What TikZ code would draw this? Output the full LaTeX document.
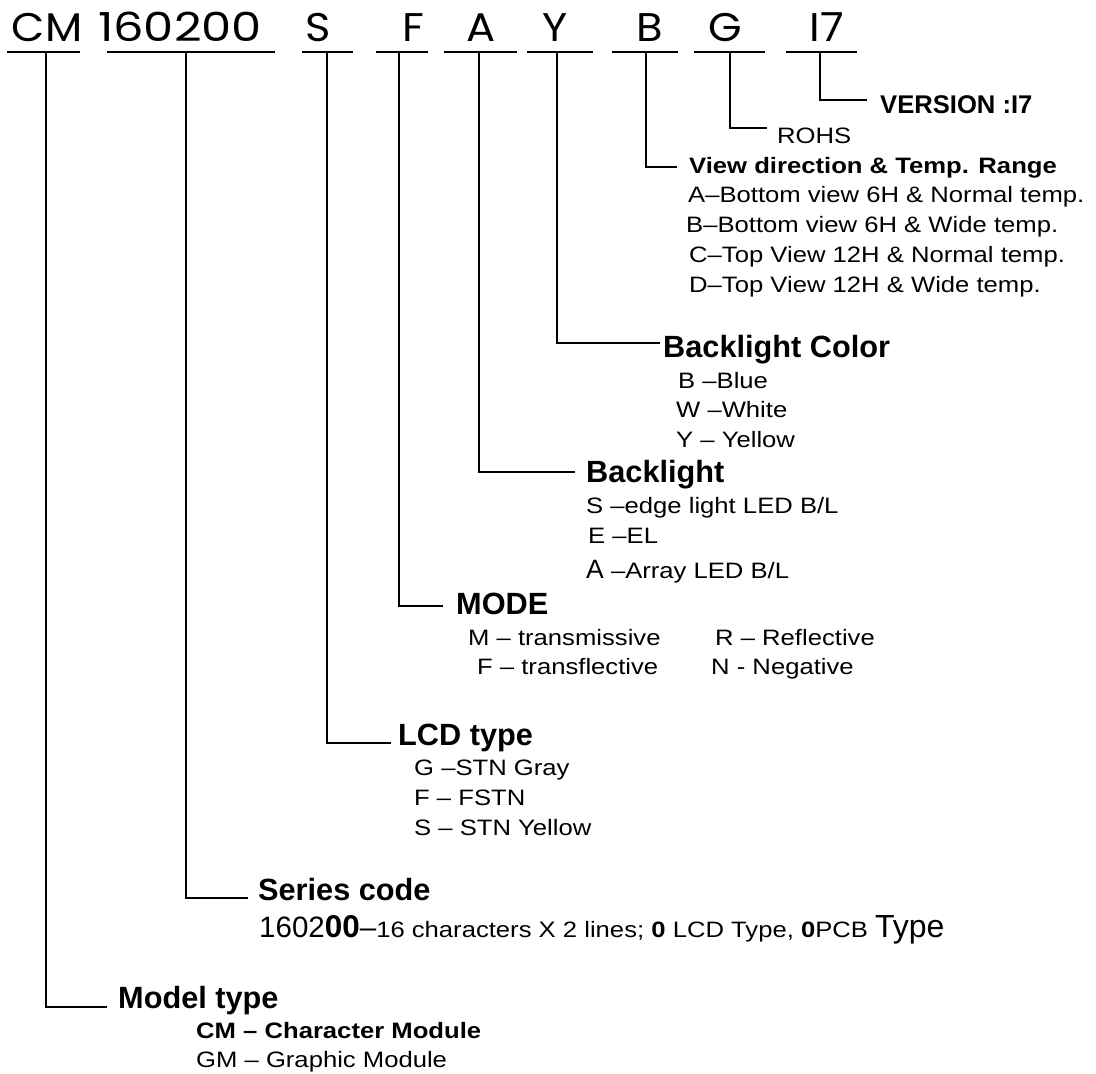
\documentclass[tikz,border=0pt]{standalone}
\usepackage{fontspec}
\setmainfont{Liberation Sans}
\newfontfamily\bodyfont{Liberation Sans}[FakeStretch=1.15]
\newfontfamily\codefont{Poppins}[FakeStretch=1.08]
\newfontfamily\codedigits{Poppins}[FakeStretch=1.2]
\usepackage{tikz}
\usetikzlibrary{positioning}

\tikzset{
  rule/.style={line width=1.8pt},
  codeletter/.style={font=\codefont\fontsize{40}{40}\selectfont,anchor=base},
  grouptitle/.style={font=\bfseries\fontsize{30.7}{32}\selectfont},
  itemtext/.style={font=\bodyfont\fontsize{22.3}{24}\selectfont},
  bolditem/.style={font=\bodyfont\bfseries\fontsize{22.3}{24}\selectfont},
}

\begin{document}
\begin{tikzpicture}[x=1pt,y=-1pt,every node/.style={inner sep=0pt,anchor=base west}]
  \useasboundingbox (0,0) rectangle (1096,1074);
  \foreach \name/\txt/\cx in {CM/CM/47,S/S/318,F/F/413,A/A/481,Y/Y/555,B/B/650,G/G/725,V/I7/827}{
    \node[codeletter] (h\name) at (\cx,41) {\txt};
  }
  \node[codeletter,font=\codedigits\fontsize{40}{40}\selectfont] (hSC) at (180,41) {160200};
  \foreach \name/\ua/\ub/\vx/\ty/\ex in {CM/7/80/46/1007/107,SC/107/275/186/898/248,S/302/353/327/743/391,F/376/428/399/606/443,A/444/517/479/472/575,Y/527/593/557/343/660,B/612/678/646/167/677,G/694/765/730/128/767,V/786/857/820/100/867}{
    \draw[rule] (\ua,52) -- (\ub,52);
    \coordinate (u\name) at (\vx,52);
    \coordinate (e\name) at (\ex,\ty);
    \draw[rule] (u\name) |- (e\name);
  }
  \node[font=\bfseries\fontsize{25.6}{26}\selectfont] (version) at (880,113) {VERSION :I7};
  \node[itemtext] (rohs) at (777,143) {ROHS};
  \node[bolditem] (view) at (689,173) {View direction \& Temp. Range};
  \foreach \i/\x/\txt in {0/688/A–Bottom view 6H \& Normal temp.,1/686/B–Bottom view 6H \& Wide temp.,2/689/C–Top View 12H \& Normal temp.,3/689/D–Top View 12H \& Wide temp.}{
    \node[itemtext] (view\i) at (\x,{202+30*\i}) {\txt};
  }
  \node[grouptitle] (color) at (663,357) {Backlight Color};
  \node[itemtext] (colB) at (678,388) {B –Blue};
  \node[itemtext] (colW) at (676,417) {W –White};
  \node[itemtext] (colY) at (676,447) {Y – Yellow};
  \node[grouptitle] (light) at (586,482) {Backlight};
  \node[itemtext] (lightS) at (586,513) {S –edge light LED B/L};
  \node[itemtext] (lightE) at (588,543) {E –EL};
  \node[itemtext] (lightA) at (586,578) {{\normalfont\fontsize{26.5}{27}\selectfont A} –Array LED B/L};
  \node[grouptitle] (mode) at (456,614) {MODE};
  \node[itemtext] (modeM) at (468,645) {M – transmissive};
  \node[itemtext] (modeR) at (715,645) {R – Reflective};
  \node[itemtext] (modeF) at (477,674) {F – transflective};
  \node[itemtext] (modeN) at (711,674) {N - Negative};
  \node[grouptitle] (lcd) at (398,745) {LCD type};
  \foreach \i/\txt in {0/G –STN Gray,1/F – FSTN,2/S – STN Yellow}{
    \node[itemtext] (lcd\i) at (414,{775+30*\i}) {\txt};
  }
  \node[grouptitle] (series) at (258,900) {Series code};
  \node (seriesline) at (259,937) {{\fontsize{29.5}{30}\selectfont 1602\textbf{\fontsize{31.5}{32}\selectfont 00}–}{\bodyfont\fontsize{22.3}{24}\selectfont 16 characters X 2 lines; \textbf{0} LCD Type, \textbf{0}PCB }{\fontsize{32}{33}\selectfont Type}};
  \node[grouptitle] (model) at (118,1008) {Model type};
  \node[bolditem] (modelCM) at (196,1038) {CM – Character Module};
  \node[itemtext] (modelGM) at (196,1067) {GM – Graphic Module};
\end{tikzpicture}
\end{document}
